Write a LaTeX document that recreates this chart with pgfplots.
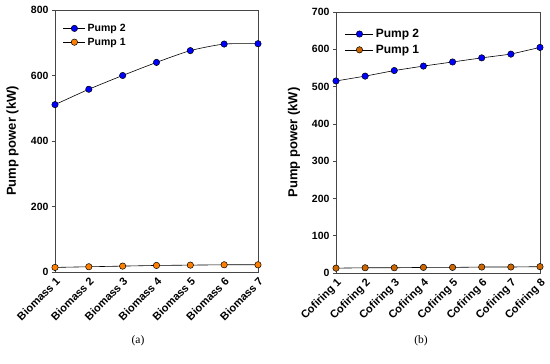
\documentclass[border=0pt]{standalone}
\usepackage{pgfplots}
\pgfplotsset{compat=1.18}
\usepackage{fontspec}
\setmainfont{Liberation Sans}
\newfontfamily\capfont{Liberation Serif}
\definecolor{pblue}{RGB}{0,0,255}
\definecolor{porangeA}{RGB}{255,128,0}
\definecolor{porangeB}{RGB}{204,102,0}
\definecolor{axgray}{RGB}{70,70,70}
\newlength{\leglen}
\pgfplotsset{
  mystyle/.style={
    scale only axis,
    clip=false,
    axis line style={axgray, line width=0.8pt},
    /pgf/number format/assume math mode=true,
    yticklabel style={font=\fontsize{10.5}{11}\selectfont\bfseries},
    ytick style={axgray, line width=0.6pt},
    xtick style={draw=none},
    tick align=outside,
    major tick length=3pt,
    ytick pos=left,
    xtick pos=bottom,
    xtick=data,
    xticklabel style={rotate=45, anchor=north east, inner sep=1pt, font=\fontsize{11}{12}\selectfont\bfseries},
    ylabel={Pump power (kW)},
    ylabel style={font=\fontsize{13}{14}\selectfont\bfseries, anchor=center},
    legend cell align=left,
    legend style={draw=none, fill=none, inner sep=0pt},
    legend image code/.code={
      \draw[black, line width=0.6pt] (0pt,0pt) -- (\leglen,0pt);
      \draw[mark size=3.2pt, #1] plot coordinates {(0.5\leglen,0pt)};
    },
  }
}
\begin{document}
\begin{tikzpicture}
\useasboundingbox (0pt,0pt) rectangle (550pt,364pt);
\setlength{\leglen}{22pt}
\begin{axis}[mystyle,
  at={(55pt,92pt)}, anchor=south west,
  width=203pt, height=262pt,
  xmin=0, xmax=6, ymin=0, ymax=800,
  ytick={0,200,400,600,800},
  xticklabels={Biomass 1,Biomass 2,Biomass 3,Biomass 4,Biomass 5,Biomass 6,Biomass 7},
  ylabel style={at={(axis description cs:-0.209,0.5)}},
  legend style={at={(axis description cs:0.039,0.955)}, anchor=north west, font=\fontsize{10.5}{11}\selectfont\bfseries, row sep=1pt},
]
\addplot[black, line width=0.6pt, smooth, tension=0.4, mark=*, mark size=3.2pt, mark options={fill=pblue, draw=black, line width=0.5pt}]
  coordinates {(0,511) (1,558) (2,600) (3,640) (4,676) (5,696) (6,697)};
\addlegendentry{Pump 2}
\addplot[black, line width=0.6pt, mark=*, mark size=3.2pt, mark options={fill=porangeA, draw=black, line width=0.5pt}]
  coordinates {(0,14) (1,16) (2,18) (3,20) (4,21) (5,22) (6,22)};
\addlegendentry{Pump 1}
\end{axis}
\setlength{\leglen}{28pt}
\begin{axis}[mystyle,
  at={(336pt,91pt)}, anchor=south west,
  width=204pt, height=261pt,
  xmin=0, xmax=7, ymin=0, ymax=700,
  ytick={0,100,200,300,400,500,600,700},
  xticklabels={Cofiring 1,Cofiring 2,Cofiring 3,Cofiring 4,Cofiring 5,Cofiring 6,Cofiring 7,Cofiring 8},
  ylabel style={at={(axis description cs:-0.206,0.5)}},
  legend style={at={(axis description cs:0.044,0.943)}, anchor=north west, font=\fontsize{12}{13}\selectfont\bfseries, row sep=2pt},
]
\addplot[black, line width=0.6pt, mark=*, mark size=3.2pt, mark options={fill=pblue, draw=black, line width=0.5pt}]
  coordinates {(0,515) (1,528) (2,543) (3,555) (4,566) (5,577) (6,587) (7,605)};
\addlegendentry{Pump 2}
\addplot[black, line width=0.6pt, mark=*, mark size=3.2pt, mark options={fill=porangeB, draw=black, line width=0.5pt}]
  coordinates {(0,13) (1,14) (2,14) (3,15) (4,15) (5,16) (6,16) (7,17)};
\addlegendentry{Pump 1}
\end{axis}
\node[font=\capfont\fontsize{11.5}{13}\selectfont] at (138pt,23pt) {(a)};
\node[font=\capfont\fontsize{11.5}{13}\selectfont] at (421pt,23pt) {(b)};
\end{tikzpicture}
\end{document}
